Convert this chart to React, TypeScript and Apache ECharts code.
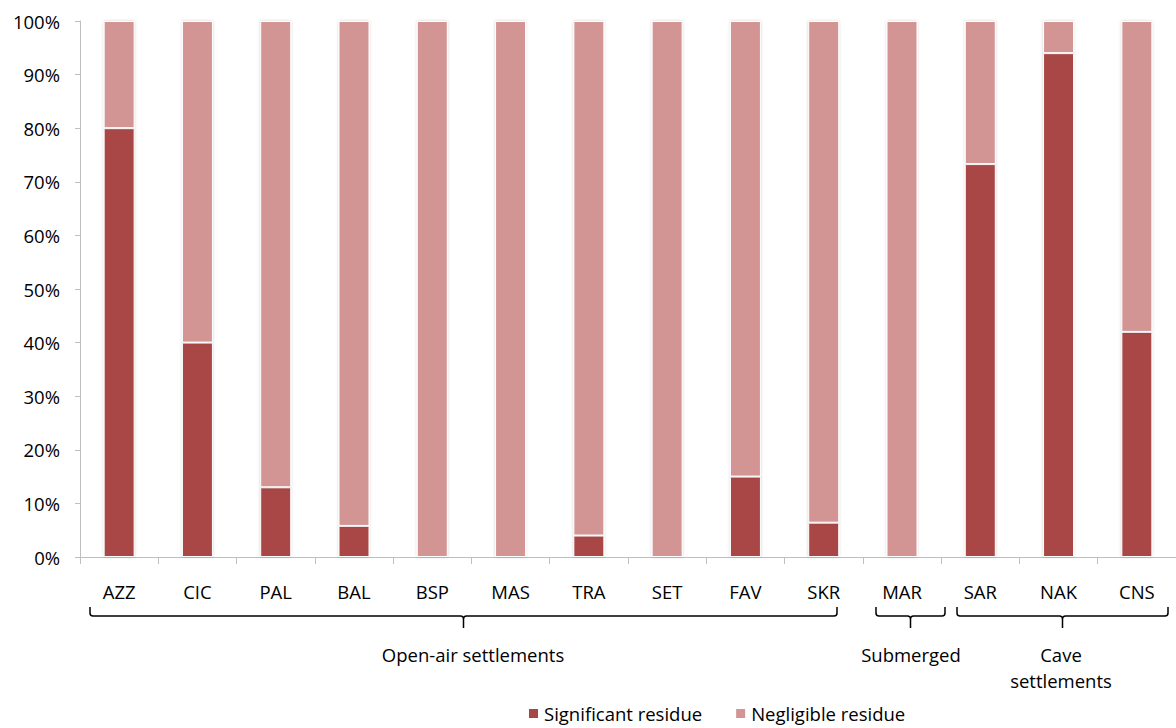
import React, { useEffect, useRef } from "react";
import * as echarts from "echarts";

const categories = ["AZZ", "CIC", "PAL", "BAL", "BSP", "MAS", "TRA", "SET", "FAV", "SKR", "MAR", "SAR", "NAK", "CNS"];
const significant = [80, 40, 13, 5.8, 0, 0, 4, 0, 15, 6.4, 0, 73.3, 94, 42];
const negligible = [20, 60, 87, 94.2, 100, 100, 96, 100, 85, 93.6, 100, 26.7, 6, 58];
const yTicks = [0, 10, 20, 30, 40, 50, 60, 70, 80, 90, 100];
const groups = [
  { label: "Open-air settlements", x1: 90, x2: 837, tx: 473 },
  { label: "Submerged", x1: 876, x2: 945, tx: 911 },
  { label: "Cave\nsettlements", x1: 957, x2: 1168, tx: 1061 },
];

const FONT = "'Open Sans', 'Noto Sans', sans-serif";
const FS = 18.5;
const DARK = "#A84645";
const LIGHT = "#D39494";

echarts.graphic.registerShape(
  "brace",
  echarts.graphic.extendShape({
    shape: { x1: 0, x2: 100, y: 0, h: 9, d: 12 },
    buildPath(ctx: any, s: any) {
      const mid = (s.x1 + s.x2) / 2;
      const r = 3;
      ctx.moveTo(s.x1, s.y);
      ctx.lineTo(s.x1, s.y + s.h - r);
      ctx.quadraticCurveTo(s.x1, s.y + s.h, s.x1 + r, s.y + s.h);
      ctx.lineTo(mid - r, s.y + s.h);
      ctx.quadraticCurveTo(mid, s.y + s.h, mid, s.y + s.h + r);
      ctx.lineTo(mid, s.y + s.h + s.d);
      ctx.moveTo(mid, s.y + s.h + r);
      ctx.quadraticCurveTo(mid, s.y + s.h, mid + r, s.y + s.h);
      ctx.lineTo(s.x2 - r, s.y + s.h);
      ctx.quadraticCurveTo(s.x2, s.y + s.h, s.x2, s.y + s.h - r);
      ctx.lineTo(s.x2, s.y);
    },
  })
);

export default function App() {
  const ref = useRef<HTMLDivElement>(null);
  useEffect(() => {
    const chart = echarts.init(ref.current!, null, { renderer: "svg" });
    const itemStyleBase = {
      borderColor: "#ffffff",
      borderWidth: 1,
      shadowColor: "rgba(0,0,0,0.18)",
      shadowBlur: 3,
    };
    const graphics: any[] = [];
    groups.forEach((g) => {
      graphics.push({
        type: "brace",
        shape: { x1: g.x1, x2: g.x2, y: 607, h: 9, d: 12 },
        style: { stroke: "#000", lineWidth: 1.5, fill: null },
      });
      graphics.push({
        type: "text",
        x: g.tx,
        y: 641,
        style: {
          text: g.label,
          font: `${FS}px ${FONT}`,
          fill: "#000",
          align: "center",
          verticalAlign: "top",
          lineHeight: 26,
        },
      });
    });
    chart.setOption({
      animation: false,
      grid: { left: 80, top: 21, width: 1103, height: 536 },
      legend: {
        bottom: 0,
        left: 522,
        itemWidth: 11,
        itemHeight: 11,
        itemGap: 32,
        icon: "rect",
        textStyle: { fontFamily: FONT, fontSize: FS, color: "#000" },
        data: ["Significant residue", "Negligible residue"],
      },
      xAxis: {
        type: "category",
        data: categories,
        axisLine: { lineStyle: { color: "#BFBFBF", width: 1 } },
        axisTick: { show: true, length: 7, lineStyle: { color: "#BFBFBF" } },
        axisLabel: { fontFamily: FONT, fontSize: FS, color: "#000", margin: 25 },
      },
      yAxis: {
        type: "value",
        min: 0,
        max: 100,
        interval: 10,
        axisLine: { show: true, lineStyle: { color: "#BFBFBF", width: 1 } },
        axisTick: { show: true, length: 5, lineStyle: { color: "#BFBFBF" } },
        splitLine: { show: false },
        axisLabel: {
          fontFamily: FONT,
          fontSize: FS,
          color: "#000",
          margin: 20,
          formatter: (v: number) => (yTicks.includes(v) ? `${v}%` : ""),
        },
      },
      series: [
        {
          name: "Significant residue",
          type: "bar",
          stack: "total",
          barWidth: 31,
          data: significant,
          itemStyle: { ...itemStyleBase, color: DARK },
        },
        {
          name: "Negligible residue",
          type: "bar",
          stack: "total",
          barWidth: 31,
          data: negligible,
          itemStyle: { ...itemStyleBase, color: LIGHT },
        },
      ],
      graphic: graphics,
    });
    return () => chart.dispose();
  }, []);
  return <div ref={ref} style={{ width: 1176, height: 728, position: "absolute", left: 0, top: 0 }} />;
}
